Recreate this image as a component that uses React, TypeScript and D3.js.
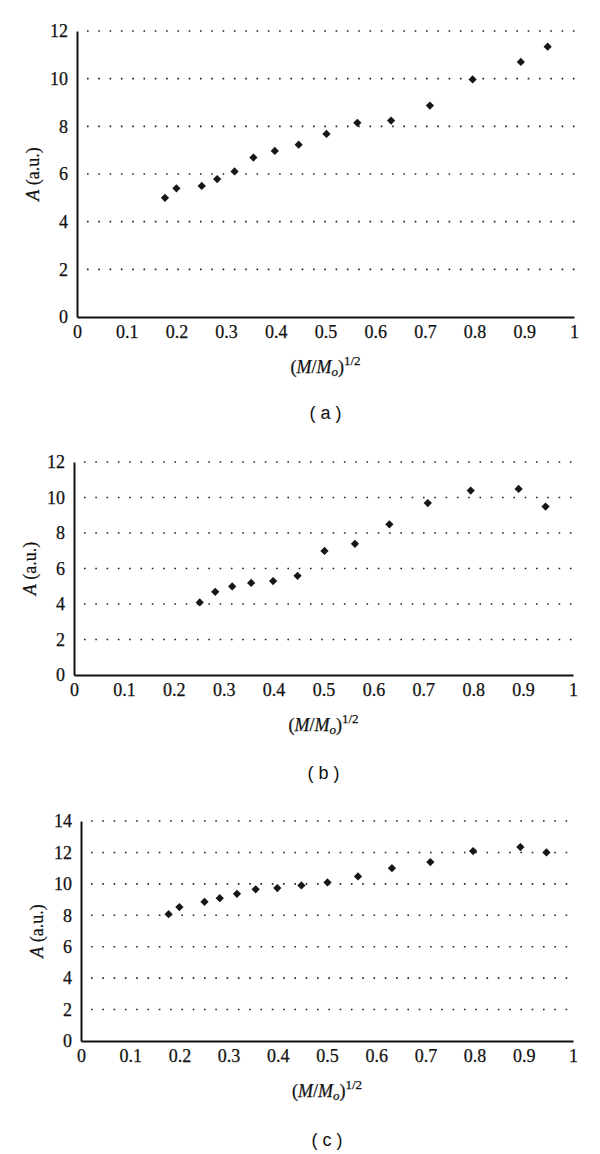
import { useEffect, useRef } from "react";
import * as d3 from "d3";

// x values are (M/Mo)^1/2, y values are A (a.u.)
const xA = [0.177, 0.2, 0.251, 0.282, 0.317, 0.355, 0.398, 0.446, 0.502, 0.564, 0.632, 0.71, 0.796, 0.893, 0.947];
const yA = [5.0, 5.4, 5.5, 5.79, 6.11, 6.69, 6.97, 7.23, 7.68, 8.15, 8.24, 8.87, 9.97, 10.7, 11.34];

const xB = [0.252, 0.283, 0.317, 0.355, 0.399, 0.448, 0.502, 0.563, 0.632, 0.709, 0.795, 0.891, 0.945];
const yB = [4.09, 4.69, 4.99, 5.19, 5.29, 5.59, 6.99, 7.39, 8.49, 9.69, 10.39, 10.48, 9.49];

const xC = [0.178, 0.2, 0.251, 0.282, 0.317, 0.355, 0.399, 0.448, 0.501, 0.563, 0.632, 0.71, 0.797, 0.893, 0.946];
const yC = [8.07, 8.52, 8.86, 9.09, 9.37, 9.65, 9.73, 9.9, 10.09, 10.47, 11.0, 11.39, 12.09, 12.34, 12.0];

const xTicks = [0, 0.1, 0.2, 0.3, 0.4, 0.5, 0.6, 0.7, 0.8, 0.9, 1];
const yTicksAB = [0, 2, 4, 6, 8, 10, 12];
const yTicksC = [0, 2, 4, 6, 8, 10, 12, 14];
const panelLabels = ["a", "b", "c"];

const serif = "'Liberation Serif', 'Times New Roman', serif";
const sans = "'Liberation Sans', Arial, sans-serif";

function Panel({ xs, ys, yTicks, label, box }) {
  const xRef = useRef(null);
  const yRef = useRef(null);

  const x = d3.scaleLinear().domain([0, 1]).range([box.left, box.right]);
  const y = d3
    .scaleLinear()
    .domain([0, yTicks[yTicks.length - 1]])
    .range([box.bottom, box.top]);

  useEffect(() => {
    const fmt = (d) => (d === 0 || d === 1 ? String(d) : d3.format(".1f")(d));
    const gx = d3.select(xRef.current);
    gx.selectAll("*").remove();
    gx.call(d3.axisBottom(x).tickValues(xTicks).tickSize(0).tickPadding(8).tickFormat(fmt));
    gx.attr("font-family", null).attr("font-size", null);
    gx.select(".domain").attr("stroke", "#111").attr("stroke-width", 2);
    gx.selectAll("text")
      .style("font-family", serif)
      .style("font-size", "18px")
      .attr("fill", "#111")
      .attr("stroke", "#111")
      .attr("stroke-width", 0.25);

    const gy = d3.select(yRef.current);
    gy.selectAll("*").remove();
    gy.call(d3.axisLeft(y).tickValues(yTicks).tickSize(0).tickPadding(9));
    gy.attr("font-family", null).attr("font-size", null);
    gy.select(".domain").attr("stroke", "#111").attr("stroke-width", 2);
    gy.selectAll("text")
      .style("font-family", serif)
      .style("font-size", "18px")
      .attr("fill", "#111")
      .attr("stroke", "#111")
      .attr("stroke-width", 0.25);
  });

  const diamond = d3.symbol(d3.symbolSquare, 34)();
  const midX = (box.left + box.right) / 2;

  return (
    <g>
      {/* dotted gridlines */}
      {yTicks
        .filter((t) => t > 0)
        .map((t) => (
          <line
            key={t}
            x1={box.left + 10}
            x2={box.right + 2}
            y1={y(t)}
            y2={y(t)}
            stroke="#222"
            strokeWidth={1.6}
            strokeDasharray="1.6 9.7"
          />
        ))}
      <g ref={xRef} transform={`translate(0,${box.bottom})`} />
      <g ref={yRef} transform={`translate(${box.left},0)`} />
      {xs.map((v, i) => (
        <path
          key={i}
          d={diamond}
          transform={`translate(${x(v)},${y(ys[i])}) rotate(45)`}
          fill="#161616"
        />
      ))}
      <text
        x={midX}
        y={box.bottom + 50}
        textAnchor="middle"
        dominantBaseline="central"
        style={{ fontFamily: serif, fontSize: 18 }}
        fill="#111"
        stroke="#111"
        strokeWidth={0.25}
      >
        (<tspan fontStyle="italic">M</tspan>/<tspan fontStyle="italic">M</tspan>
        <tspan fontStyle="italic" style={{ fontSize: 13 }} dy={4}>o</tspan>
        <tspan dy={-4}>)</tspan>
        <tspan style={{ fontSize: 13 }} dy={-7}>1/2</tspan>
      </text>
      <text
        transform={`translate(${box.left - 44},${(box.top + box.bottom) / 2}) rotate(-90)`}
        textAnchor="middle"
        dominantBaseline="central"
        style={{ fontFamily: serif, fontSize: 18 }}
        fill="#111"
        stroke="#111"
        strokeWidth={0.25}
      >
        <tspan fontStyle="italic">A</tspan> (a.u.)
      </text>
      <text
        x={midX}
        y={box.labelY}
        textAnchor="middle"
        dominantBaseline="central"
        style={{ fontFamily: sans, fontSize: 18 }}
        fill="#111"
      >
        {`( ${label} )`}
      </text>
    </g>
  );
}

export default function App() {
  return (
    <div style={{ position: "absolute", left: 0, top: 0 }}>
      <svg width={600} height={1154} style={{ display: "block", background: "#fff" }}>
        <Panel
          xs={xA}
          ys={yA}
          yTicks={yTicksAB}
          label={panelLabels[0]}
          box={{ left: 77, right: 574, top: 31, bottom: 317, labelY: 413 }}
        />
        <Panel
          xs={xB}
          ys={yB}
          yTicks={yTicksAB}
          label={panelLabels[1]}
          box={{ left: 74, right: 573, top: 462, bottom: 675, labelY: 773 }}
        />
        <Panel
          xs={xC}
          ys={yC}
          yTicks={yTicksC}
          label={panelLabels[2]}
          box={{ left: 81, right: 573, top: 821, bottom: 1041, labelY: 1140 }}
        />
      </svg>
    </div>
  );
}
